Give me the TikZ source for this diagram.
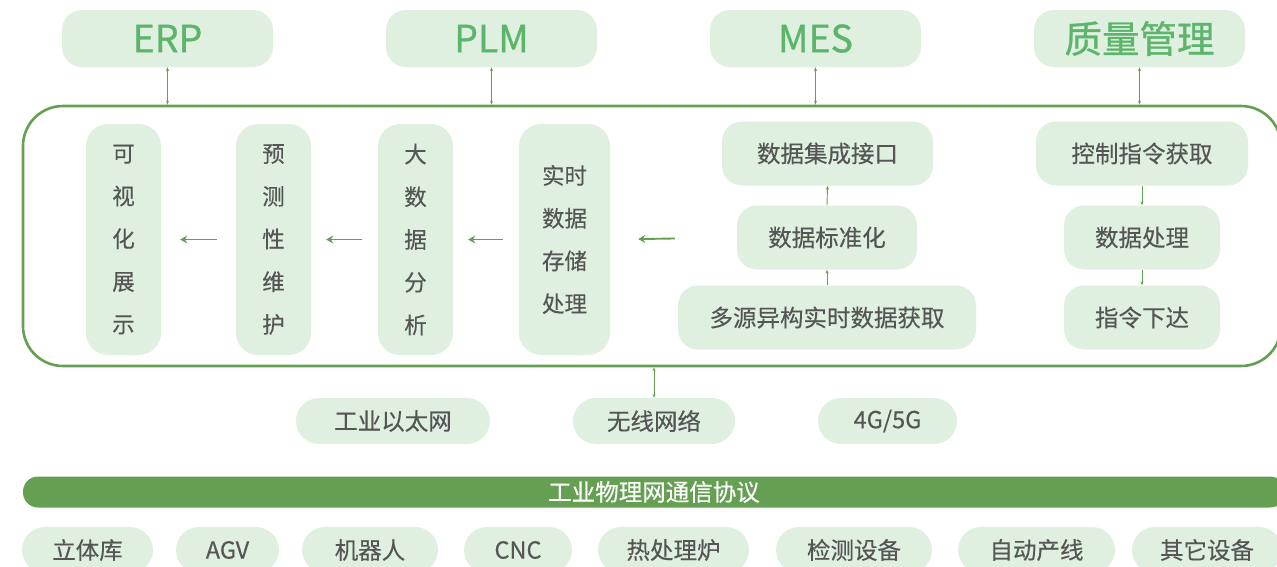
\documentclass[tikz,border=0pt]{standalone}
\usepackage{fontspec}
\setmainfont{Noto Sans CJK SC}[FakeBold=0.3]
\newfontfamily\titlefont{Noto Sans CJK SC}[FakeBold=0.9]
\usetikzlibrary{arrows.meta}
\definecolor{lg}{HTML}{DFF0E1}
\definecolor{gr}{HTML}{659F52}
\definecolor{tg}{HTML}{5DB56B}
\definecolor{tx}{HTML}{555555}
\begin{document}
\begin{tikzpicture}[x=1pt,y=-1pt,
  box/.style={fill=lg, rounded corners=18pt, text=tx, inner sep=0pt, font=\fontsize{23.5}{26}\selectfont},
  title/.style={box, text=tg, rounded corners=20pt, minimum width=211pt, minimum height=57pt, font=\titlefont\fontsize{37.5}{40}\selectfont},
  vbox/.style={box, minimum width=75pt, minimum height=231pt, align=center, rounded corners=22pt, font=\fontsize{22.5}{42.7}\selectfont},
  hbox/.style={box, minimum height=64pt, rounded corners=20pt},
  nbox/.style={box, minimum height=46pt, rounded corners=23pt},
  biarrow/.style={gr, line width=0.9pt, {Stealth[length=4pt,width=3pt]}-{Stealth[length=4pt,width=3pt]}},
  uparrow/.style={gr, line width=0.9pt, -{Stealth[length=4pt,width=3pt]}},
  larrow/.style={gr, line width=1.9pt, -{Stealth[length=7pt,width=8pt]}}]
\useasboundingbox (0,0) rectangle (1277,566);
\clip (0,0) rectangle (1277,566);
% top systems
\node[title] (erp) at (167.5,38.5) {ERP};
\node[title] (plm) at (491.5,38.5) {PLM};
\node[title] (mes) at (815.5,38.5) {MES};
\node[title] (qm) at (1139.5,38.5) {质量管理};
% frame
\node[draw=gr, line width=2.6pt, rounded corners=40pt, minimum width=1258pt, minimum height=260pt, inner sep=0pt] (frame) at (652,236) {};
\foreach \n in {erp,plm,mes,qm} \draw[biarrow] (\n.south) -- (\n.south |- frame.north);
% vertical boxes
\node[vbox] (vis) at (123.5,239.5) {可\\视\\化\\展\\示};
\node[vbox] (pred) at (273.5,239.5) {预\\测\\性\\维\\护};
\node[vbox] (big) at (415.5,239.5) {大\\数\\据\\分\\析};
\node[vbox, minimum width=91pt] (rt) at (564.5,239.5) {实时\\数据\\存储\\处理};
% MES stack
\node[hbox, minimum width=211pt] (jc) at (827.5,153.5) {数据集成接口};
\node[hbox, minimum width=180pt] (std) at (827,237.5) {数据标准化};
\node[hbox, minimum width=298pt] (dy) at (827,317.5) {多源异构实时数据获取};
% control stack
\node[hbox, minimum width=212pt] (kz) at (1142,153.5) {控制指令获取};
\node[hbox, minimum width=156pt] (sj) at (1142,237.5) {数据处理};
\node[hbox, minimum width=156pt] (zl) at (1142,317.5) {指令下达};
% arrows inside
\draw[larrow, shorten <=19pt, shorten >=19pt] (pred.west) -- (vis.east);
\draw[larrow, shorten <=16pt, shorten >=15pt] (big.west) -- (pred.east);
\draw[larrow, shorten <=16pt, shorten >=15pt] (rt.west) -- (big.east);
\draw[larrow, shorten <=62pt, shorten >=28pt] (std.west) -- (rt.east);
\draw[uparrow] (std.north) -- (jc.south);
\draw[uparrow] (dy.north -| std.north) -- (std.south);
\draw[uparrow] (kz.south) -- (sj.north);
\draw[uparrow] (sj.south) -- (zl.north);
% networks
\node[nbox, minimum width=194pt] (eth) at (393,421) {工业以太网};
\node[nbox, minimum width=162pt] (wx) at (654,421) {无线网络};
\node[nbox, minimum width=139pt] (g5) at (887.5,421) {4G/5G};
\draw[biarrow] (wx.north) -- (wx.north |- frame.south);
% protocol bar
\node[fill=gr, rounded corners=15pt, minimum width=1262pt, minimum height=31pt, inner sep=0pt, text=white, font=\fontsize{23.5}{26}\selectfont] (bar) at (654,492) {工业物理网通信协议};
% devices
\node[nbox, minimum width=131pt] (d1) at (87.5,550) {立体库};
\node[nbox, minimum width=103pt] (d2) at (227.5,550) {AGV};
\node[nbox, minimum width=136pt] (d3) at (370,550) {机器人};
\node[nbox, minimum width=108pt] (d4) at (518,550) {CNC};
\node[nbox, minimum width=151pt] (d5) at (673.5,550) {热处理炉};
\node[nbox, minimum width=156pt] (d6) at (854,550) {检测设备};
\node[nbox, minimum width=157pt] (d7) at (1036.5,550) {自动产线};
\node[nbox, minimum width=150pt] (d8) at (1207,550) {其它设备};
\end{tikzpicture}
\end{document}
